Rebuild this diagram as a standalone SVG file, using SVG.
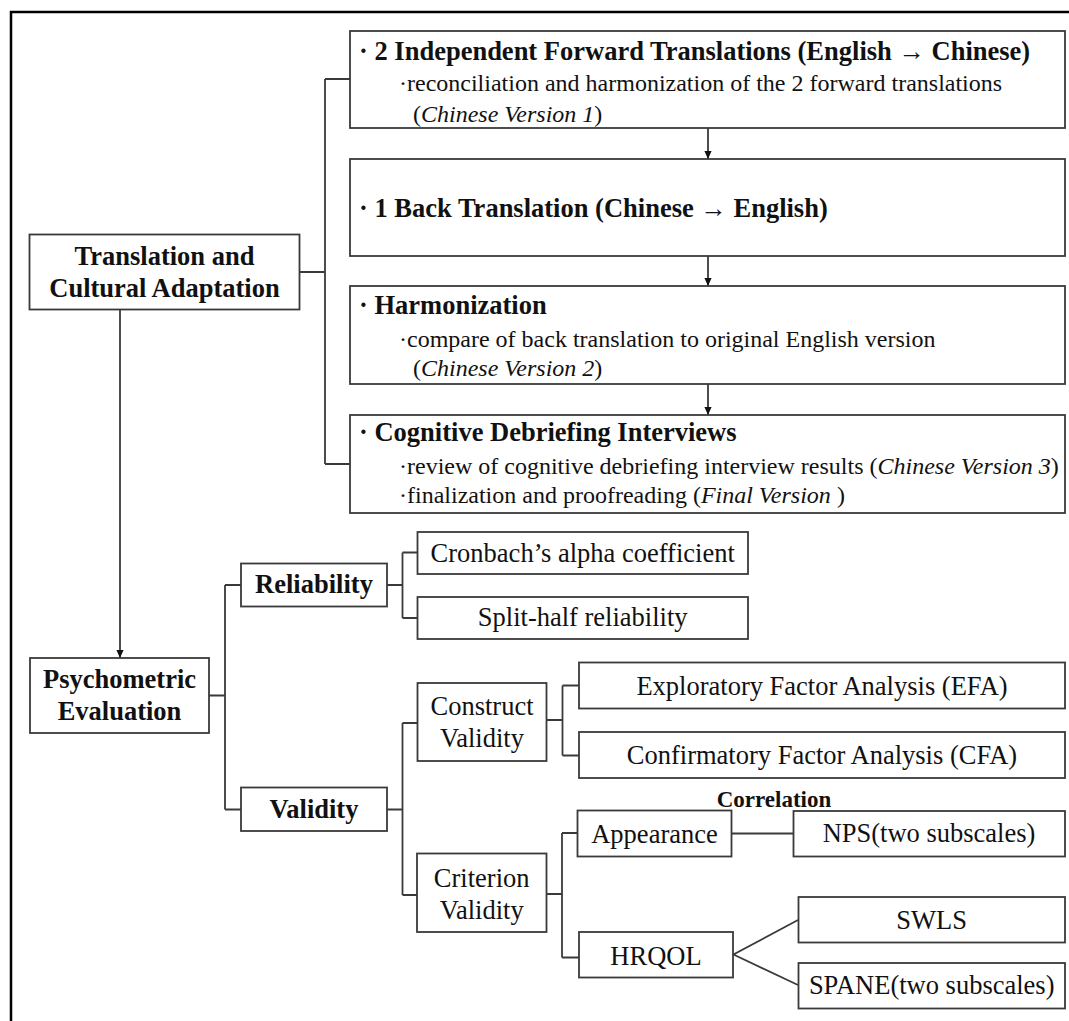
<svg xmlns="http://www.w3.org/2000/svg" width="1069" height="1021" viewBox="0 0 1069 1021">
<style>
  text { font-family: "Liberation Serif", "Times New Roman", serif; fill: #111; }
  .box { fill: #fff; stroke: #3a3a3a; stroke-width: 1.8; }
  .b { font-weight: bold; font-size: 26.5px; }
  .r { font-size: 26.5px; }
  .s { font-size: 24px; }
  .i { font-style: italic; }
  .c { text-anchor: middle; }
  .ln { fill: none; stroke: #3a3a3a; stroke-width: 1.8; }
</style>
<defs>
  <marker id="ah" viewBox="0 0 10 10" refX="10" refY="5" markerWidth="8" markerHeight="8" markerUnits="userSpaceOnUse" orient="auto">
    <path d="M0,0.5 L10,5 L0,9.5 z" fill="#111"/>
  </marker>
</defs>
<rect width="1069" height="1021" fill="#fff"/>
<path d="M11,1021 V12 H1069" fill="none" stroke="#000" stroke-width="2.5"/>

<g id="connectors">
  <path class="ln" d="M299,272 H325 M325,79 V464 M325,79 H350 M325,464 H350"/>
  <line class="ln" x1="708" y1="128" x2="708" y2="159" marker-end="url(#ah)"/>
  <line class="ln" x1="708" y1="256" x2="708" y2="286" marker-end="url(#ah)"/>
  <line class="ln" x1="708" y1="384" x2="708" y2="415" marker-end="url(#ah)"/>
  <line class="ln" x1="120" y1="310" x2="120" y2="658" marker-end="url(#ah)"/>
  <path class="ln" d="M209,695.5 H225 M225,585 V809.5 M225,585 H241 M225,809.5 H241"/>
  <path class="ln" d="M387,585 H402.5 M402.5,552.5 V618 M402.5,552.5 H417 M402.5,618 H417"/>
  <path class="ln" d="M387,809.5 H402.5 M402.5,723 V895 M402.5,723 H417 M402.5,895 H417"/>
  <path class="ln" d="M547,720 H562.5 M562.5,685.5 V755.5 M562.5,685.5 H579 M562.5,755.5 H579"/>
  <path class="ln" d="M547,894 H562 M562,833 V957.5 M562,833 H578 M562,957.5 H579"/>
  <line class="ln" x1="732" y1="833.5" x2="793" y2="833.5"/>
  <path class="ln" d="M798,920 L733.5,954.5 L798,985"/>
  <text class="c" x="774" y="807" style="font-weight:bold;font-size:23px">Correlation</text>
</g>

<g id="translation">
  <rect class="box" x="29.5" y="234.5" width="270" height="75"/>
  <text class="b c" x="164.5" y="265">Translation and</text>
  <text class="b c" x="164.5" y="297">Cultural Adaptation</text>
</g>

<g id="forward">
  <rect class="box" x="350" y="31" width="715" height="97"/>
  <text class="b" x="359" y="60">· 2 Independent Forward Translations (English → Chinese)</text>
  <text class="s" x="399" y="91">·reconciliation and harmonization of the 2 forward translations</text>
  <text class="s" x="413" y="122">(<tspan class="i">Chinese Version 1</tspan>)</text>
</g>

<g id="back">
  <rect class="box" x="350" y="159" width="715" height="97"/>
  <text class="b" x="359" y="217">· 1 Back Translation (Chinese → English)</text>
</g>

<g id="harmonization">
  <rect class="box" x="350" y="286" width="715" height="98"/>
  <text class="b" x="359" y="314">· Harmonization</text>
  <text class="s" x="399" y="347">·compare of back translation to original English version</text>
  <text class="s" x="413" y="376">(<tspan class="i">Chinese Version 2</tspan>)</text>
</g>

<g id="cognitive">
  <rect class="box" x="350" y="415" width="715" height="98"/>
  <text class="b" x="359" y="441">· Cognitive Debriefing Interviews</text>
  <text class="s" x="399" y="474">·review of cognitive debriefing interview results (<tspan class="i">Chinese Version 3</tspan>)</text>
  <text class="s" x="399" y="503">·finalization and proofreading (<tspan class="i">Final Version </tspan>)</text>
</g>

<g id="psychometric">
  <rect class="box" x="30" y="658" width="179" height="75"/>
  <text class="b c" x="119.5" y="688">Psychometric</text>
  <text class="b c" x="119.5" y="720">Evaluation</text>
</g>

<g id="reliability">
  <rect class="box" x="241" y="563.5" width="146" height="43"/>
  <text class="b c" x="314" y="593">Reliability</text>
</g>

<g id="validity">
  <rect class="box" x="241" y="787.5" width="146" height="43.5"/>
  <text class="b c" x="314" y="818">Validity</text>
</g>

<g id="cronbach">
  <rect class="box" x="417.5" y="532" width="330.5" height="42"/>
  <text class="r c" x="582.7" y="562">Cronbach’s alpha coefficient</text>
</g>

<g id="splithalf">
  <rect class="box" x="417.5" y="597" width="330.5" height="42"/>
  <text class="r c" x="582.7" y="626">Split-half reliability</text>
</g>

<g id="construct">
  <rect class="box" x="417.5" y="683" width="129" height="78"/>
  <text class="r c" x="482" y="715">Construct</text>
  <text class="r c" x="482" y="747">Validity</text>
</g>

<g id="criterion">
  <rect class="box" x="417" y="853.5" width="129.5" height="78.5"/>
  <text class="r c" x="481.7" y="887">Criterion</text>
  <text class="r c" x="481.7" y="918.5">Validity</text>
</g>

<g id="efa">
  <rect class="box" x="579" y="662.5" width="486" height="46"/>
  <text class="r c" x="822" y="695">Exploratory Factor Analysis (EFA)</text>
</g>

<g id="cfa">
  <rect class="box" x="579" y="732" width="486" height="46"/>
  <text class="r c" x="822" y="763.5">Confirmatory Factor Analysis (CFA)</text>
</g>

<g id="appearance">
  <rect class="box" x="577.5" y="810.5" width="154" height="46"/>
  <text class="r c" x="654.5" y="843">Appearance</text>
</g>

<g id="nps">
  <rect class="box" x="793.5" y="811" width="271.5" height="45.5"/>
  <text class="r c" x="929" y="842">NPS(two subscales)</text>
</g>

<g id="hrqol">
  <rect class="box" x="579" y="932" width="154" height="45.5"/>
  <text class="r c" x="656" y="964.5">HRQOL</text>
</g>

<g id="swls">
  <rect class="box" x="798.5" y="897" width="266.5" height="45.5"/>
  <text class="r c" x="931.7" y="928.5">SWLS</text>
</g>

<g id="spane">
  <rect class="box" x="798.5" y="963" width="266.5" height="45.5"/>
  <text class="r c" x="931.7" y="993.5">SPANE(two subscales)</text>
</g>
</svg>
